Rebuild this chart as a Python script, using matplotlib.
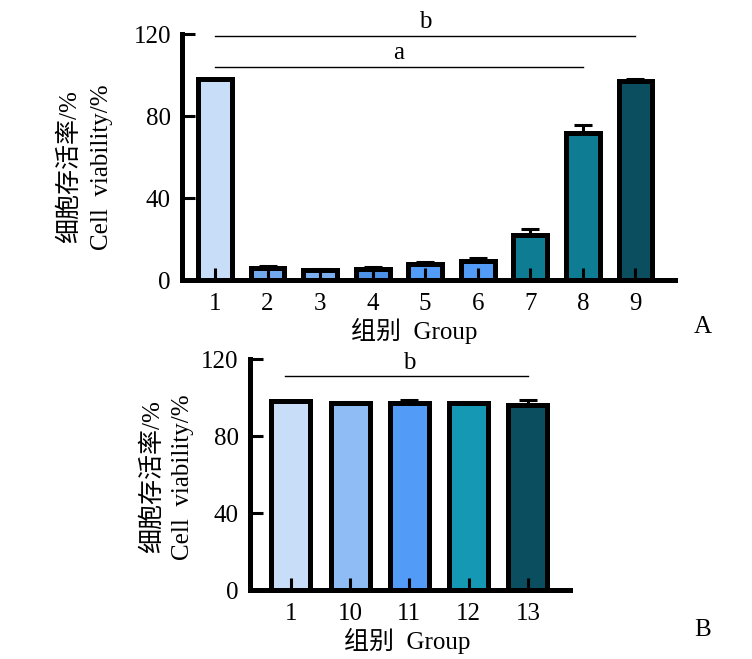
import matplotlib
matplotlib.use("Agg")
import matplotlib.pyplot as plt
import numpy as np

# panel A data
groups_a = ["1", "2", "3", "4", "5", "6", "7", "8", "9"]
values_a = [98, 6, 5, 5.5, 8, 9.5, 22, 72, 97]
errors_a = [0, 1, 0.5, 1, 0.8, 1.5, 3, 3.5, 1]
colors_a = ["#C8DDF8", "#72A8EE", "#7AAEEF", "#4D92E6", "#529BF6",
            "#529BF6", "#0E7D93", "#0E7D93", "#0A4E60"]

# panel B data
groups_b = ["1", "10", "11", "12", "13"]
values_b = [98, 97, 97, 97, 96]
errors_b = [0, 0.8, 1.8, 0.8, 2.5]
colors_b = ["#C8DDF8", "#8FBCF5", "#529BF6", "#1598B3", "#0A4E60"]

ylabel_cn = "细胞存活率/%"
ylabel_en = "Cell  viability/%"
xlabel = "组别  Group"

serif = ["Liberation Serif", "Noto Sans CJK SC"]
plt.rcParams["font.family"] = serif
fs = 18

fig = plt.figure(figsize=(7.52, 6.59), dpi=100)


def panel(ax, groups, values, errors, colors, xlim, barw):
    x = np.arange(len(groups))
    ax.set_axisbelow(False)
    ax.bar(x, values, width=barw, color=colors, edgecolor="black",
           linewidth=3.6, zorder=2)
    ax.errorbar(x, values, yerr=[np.zeros(len(errors)), errors], fmt="none",
                ecolor="black", elinewidth=2.2, capsize=6.5, capthick=2.2,
                zorder=1)
    ax.set_xlim(*xlim)
    ax.set_ylim(0, 120)
    ax.set_yticks([0, 40, 80, 120])
    ax.set_xticks(x)
    ax.set_xticklabels(groups)
    for s in ["top", "right"]:
        ax.spines[s].set_visible(False)
    for s in ["left", "bottom"]:
        ax.spines[s].set_linewidth(3.6)
    ax.tick_params(axis="x", direction="in", length=9, width=2.2, pad=9,
                   labelsize=fs)
    ax.tick_params(axis="y", direction="in", length=9, width=2.2, pad=8,
                   labelsize=fs)
    return x


axA = fig.add_axes([0.242, 0.575, 0.656, 0.373])
xa = panel(axA, groups_a, values_a, errors_a, colors_a, (-0.63, 8.76), 0.64)
axA.plot([xa[0], xa[8]], [119, 119], color="black", lw=1, clip_on=False)
axA.text((xa[0] + xa[8]) / 2, 120.5, "b", ha="center", va="bottom", fontsize=fs)
axA.plot([xa[0], xa[7]], [104, 104], color="black", lw=1, clip_on=False)
axA.text((xa[0] + xa[7]) / 2, 105.5, "a", ha="center", va="bottom", fontsize=fs)
axA.text(-0.228, 0.46, ylabel_cn, transform=axA.transAxes, rotation=90,
         ha="center", va="center", fontsize=fs)
axA.text(-0.162, 0.46, ylabel_en, transform=axA.transAxes, rotation=90,
         ha="center", va="center", fontsize=fs)
axA.text(0.47, -0.205, xlabel, transform=axA.transAxes, ha="center",
         va="center", fontsize=fs)
fig.text(703 / 752, 1 - 327 / 659, "A", ha="center", va="center", fontsize=fs)

axB = fig.add_axes([0.3324, 0.1047, 0.4256, 0.3505])
xb = panel(axB, groups_b, values_b, errors_b, colors_b, (-0.69, 4.71), 0.66)
axB.plot([xb[0] - 0.1, xb[4]], [111, 111], color="black", lw=1, clip_on=False)
axB.text((xb[0] + xb[4]) / 2, 112, "b", ha="center", va="bottom", fontsize=fs)
axB.text(-0.305, 0.49, ylabel_cn, transform=axB.transAxes, rotation=90,
         ha="center", va="center", fontsize=fs)
axB.text(-0.208, 0.49, ylabel_en, transform=axB.transAxes, rotation=90,
         ha="center", va="center", fontsize=fs)
axB.text(0.49, -0.222, xlabel, transform=axB.transAxes, ha="center",
         va="center", fontsize=fs)
fig.text(703 / 752, 1 - 630 / 659, "B", ha="center", va="center", fontsize=fs)

fig.savefig("out.png", dpi=100)
